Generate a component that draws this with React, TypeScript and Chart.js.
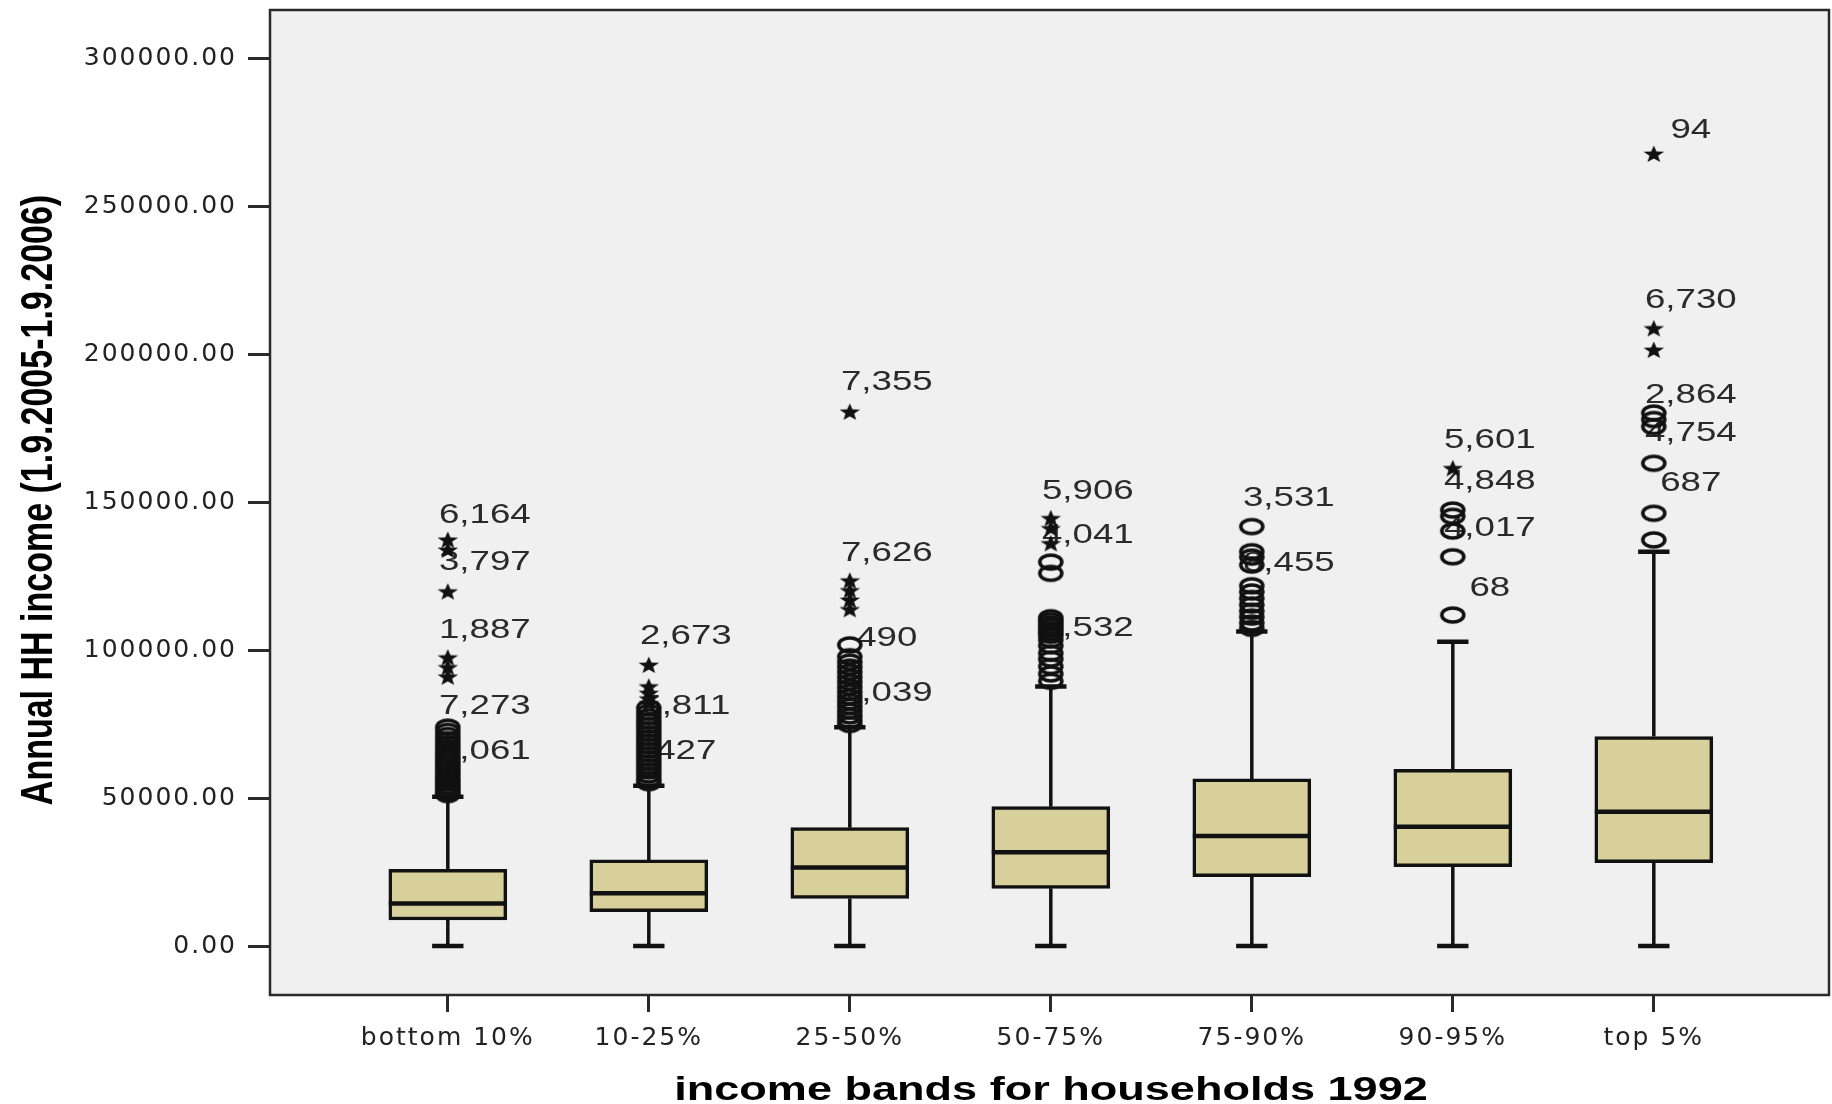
import React, { useEffect, useRef } from 'react';
import { Chart, registerables } from 'chart.js';

Chart.register(...registerables);

// ---------------- data ----------------
const categories = ['bottom 10%', '10-25%', '25-50%', '50-75%', '75-90%', '90-95%', 'top 5%'];

const whiskerLow = [0, 0, 0, 0, 0, 0, 0];
const quartile1 = [8800, 11600, 16100, 19500, 23400, 26800, 28200];
const medians = [14400, 17800, 26500, 31700, 37200, 40300, 45400];
const quartile3 = [25900, 29100, 40000, 47100, 56500, 59700, 70800];
const whiskerHigh = [50500, 54200, 74000, 87700, 106300, 102900, 133300];

// outliers (circles) per category
const mildOutliers = [
  [74000, 72600, 71200, 69800, 68500, 67200, 66000, 64800, 63600, 62500, 61400, 60300, 59200, 58100, 57000, 56000, 55000, 54000, 53000, 52000, 51200],
  [80500, 79000, 77500, 76000, 74600, 73200, 71800, 70400, 69000, 67600, 66200, 64800, 63400, 62000, 60600, 59200, 57800, 56400, 55200],
  [101800, 97800, 96000, 94300, 92600, 90900, 89200, 87500, 85800, 84200, 82600, 81000, 79400, 77800, 76300, 74900],
  [129800, 126000, 111000, 110000, 109000, 108000, 107000, 106000, 105000, 103500, 101500, 99000, 97000, 94500, 92000, 89500],
  [141800, 133300, 131500, 128800, 121800, 119700, 117500, 115300, 113200, 111200, 109200, 107400],
  [147400, 145300, 140300, 131600, 111900],
  [180200, 178000, 175600, 163200, 146300, 137300],
];

// extreme values (stars) per category
const extremeOutliers = [
  [137300, 133900, 119800, 97500, 94200, 91000],
  [95000, 87700, 85500, 83600, 82000],
  [180600, 123500, 120200, 117000, 113800],
  [144600, 141200, 136100],
  [],
  [161500],
  [267800, 208800, 201500],
];

// case-number labels per category, and the value each label sits next to
const caseLabelTexts = [
  ['6,164', '3,797', '1,887', '7,273', '4,061'],
  ['2,673', '5,811', '427'],
  ['7,355', '7,626', '490', '7,039'],
  ['5,906', '4,041', '3,532'],
  ['3,531', '8,455'],
  ['5,601', '4,848', '4,017', '68'],
  ['94', '6,730', '2,864', '4,754', '687'],
];
const caseLabelValues = [
  [136900, 121100, 98000, 72100, 56900],
  [95800, 72100, 56900],
  [181900, 124000, 95200, 76600],
  [144800, 130200, 98600],
  [142600, 120600],
  [162300, 148200, 132400, 112100],
  [267100, 209600, 177500, 164500, 147600],
];

const yTicks = [0, 50000, 100000, 150000, 200000, 250000, 300000];
const yTitle = 'Annual HH income (1.9.2005-1.9.2006)';
const xTitle = 'income bands for households 1992';

// ---------------- style ----------------
const FONT = '"Liberation Sans", Arial, Helvetica, sans-serif';
const TICK_FONT = '"DejaVu Sans", "Liberation Sans", sans-serif';
const STRETCH = 1.31;
const BOX_FILL = '#D8D09A';
const INK = '#111111';
const Y_MIN = -16567;
const Y_MAX = 316466;
const X_MIN = -0.8846;
const X_MAX = 6.8716;
const MEDIAN_HALF = 0.2935;
const CAP_HALF = 0.078;

function makeEllipse(): HTMLCanvasElement {
  const c = document.createElement('canvas');
  c.width = 28;
  c.height = 20;
  const g = c.getContext('2d')!;
  g.strokeStyle = INK;
  g.lineWidth = 3.6;
  g.beginPath();
  g.ellipse(14, 10, 11, 7, 0, 0, Math.PI * 2);
  g.stroke();
  return c;
}

function makeStar(): HTMLCanvasElement {
  const c = document.createElement('canvas');
  c.width = 24;
  c.height = 20;
  const g = c.getContext('2d')!;
  g.fillStyle = INK;
  g.beginPath();
  for (let k = 0; k < 10; k++) {
    const r = k % 2 === 0 ? 9 : 3.8;
    const a = -Math.PI / 2 + (k * Math.PI) / 5;
    const x = 12 + r * Math.cos(a) * 1.2;
    const y = 10.6 + r * Math.sin(a);
    if (k === 0) g.moveTo(x, y);
    else g.lineTo(x, y);
  }
  g.closePath();
  g.fill();
  return c;
}

function stretchedText(ctx: CanvasRenderingContext2D, text: string, x: number, y: number, font: string, color: string, align: CanvasTextAlign, baseline: CanvasTextBaseline, stretch = STRETCH) {
  ctx.save();
  ctx.letterSpacing = '0px';
  ctx.font = font;
  ctx.fillStyle = color;
  ctx.textAlign = align;
  ctx.textBaseline = baseline;
  ctx.translate(x, y);
  ctx.scale(stretch, 1);
  ctx.fillText(text, 0, 0);
  ctx.restore();
}

const spssPlugin = {
  id: 'spssStyle',
  beforeUpdate(chart: any) {
    chart.ctx.letterSpacing = '2px';
  },
  beforeDraw(chart: any) {
    const { ctx, chartArea: a, width, height } = chart;
    ctx.save();
    ctx.fillStyle = '#ffffff';
    ctx.fillRect(0, 0, width, height);
    ctx.fillStyle = '#F0F0F0';
    ctx.fillRect(a.left, a.top, a.right - a.left, a.bottom - a.top);
    ctx.restore();
    ctx.letterSpacing = '2px';
  },
  beforeDatasetsDraw(chart: any) {
    const { ctx } = chart;
    const xs = chart.scales.x;
    const ys = chart.scales.y;
    caseLabelTexts.forEach((texts, i) => {
      texts.forEach((t, j) => {
        const px = xs.getPixelForValue(i) + 37;
        const py = ys.getPixelForValue(caseLabelValues[i][j]) - 26;
        stretchedText(ctx, t, px, py, `28px ${FONT}`, '#2a2a2a', 'center', 'middle');
      });
    });
  },
  afterDatasetsDraw(chart: any) {
    const { ctx, chartArea: a } = chart;
    ctx.save();
    ctx.strokeStyle = '#2a2a2a';
    ctx.lineWidth = 2.5;
    ctx.strokeRect(a.left, a.top, a.right - a.left, a.bottom - a.top);
    ctx.restore();
  },
  afterDraw(chart: any) {
    const { ctx } = chart;
    stretchedText(ctx, xTitle, 1051, 1100, `bold 34px ${FONT}`, '#000', 'center', 'alphabetic', 1.325);
    ctx.save();
    ctx.letterSpacing = '0px';
    ctx.translate(52, 500);
    ctx.rotate(-Math.PI / 2);
    ctx.scale(1, STRETCH);
    ctx.font = `bold 34px ${FONT}`;
    ctx.fillStyle = '#000';
    ctx.textAlign = 'center';
    ctx.textBaseline = 'alphabetic';
    ctx.fillText(yTitle, 0, 0);
    ctx.restore();
  },
};

export default function App() {
  const canvasRef = useRef<HTMLCanvasElement | null>(null);

  useEffect(() => {
    const canvas = canvasRef.current;
    if (!canvas) return;
    const ellipse = makeEllipse();
    const star = makeStar();

    const boxes = categories.map((_, i) => ({ x: i, y: [quartile1[i], quartile3[i]] }));
    const whiskers: any[] = [];
    const caps: any[] = [];
    const medianLines: any[] = [];
    categories.forEach((_, i) => {
      whiskers.push({ x: i, y: quartile3[i] }, { x: i, y: whiskerHigh[i] }, { x: i, y: null });
      whiskers.push({ x: i, y: whiskerLow[i] }, { x: i, y: quartile1[i] }, { x: i, y: null });
      caps.push({ x: i - CAP_HALF, y: whiskerHigh[i] }, { x: i + CAP_HALF, y: whiskerHigh[i] }, { x: i, y: null });
      caps.push({ x: i - CAP_HALF, y: whiskerLow[i] }, { x: i + CAP_HALF, y: whiskerLow[i] }, { x: i, y: null });
      medianLines.push({ x: i - MEDIAN_HALF, y: medians[i] }, { x: i + MEDIAN_HALF, y: medians[i] }, { x: i, y: null });
    });
    const circles: any[] = [];
    mildOutliers.forEach((arr, i) => arr.forEach((v) => circles.push({ x: i, y: v })));
    const stars: any[] = [];
    extremeOutliers.forEach((arr, i) => arr.forEach((v) => stars.push({ x: i, y: v })));

    const chart = new Chart(canvas, {
      type: 'bar',
      data: {
        datasets: [
          { type: 'line', data: whiskers, borderColor: INK, borderWidth: 3.5, pointRadius: 0, spanGaps: false, borderCapStyle: 'butt', order: 6 } as any,
          { type: 'line', data: caps, borderColor: INK, borderWidth: 4.5, pointRadius: 0, spanGaps: false, borderCapStyle: 'butt', order: 5 } as any,
          { type: 'bar', data: boxes, backgroundColor: BOX_FILL, borderColor: INK, borderWidth: 3.5, borderSkipped: false, barThickness: 118, order: 4 } as any,
          { type: 'line', data: medianLines, borderColor: INK, borderWidth: 4.5, pointRadius: 0, spanGaps: false, borderCapStyle: 'butt', order: 3 } as any,
          { type: 'scatter', data: circles, pointStyle: ellipse, pointRadius: 10, order: 2 } as any,
          { type: 'scatter', data: stars, pointStyle: star, pointRadius: 10, order: 1 } as any,
        ],
      },
      options: {
        responsive: false,
        animation: false,
        events: [],
        layout: { autoPadding: false, padding: { top: 10, right: 3, left: 0, bottom: 0 } },
        plugins: {
          legend: { display: false },
          tooltip: { enabled: false },
          title: { display: false },
        },
        scales: {
          x: {
            type: 'linear',
            min: X_MIN,
            max: X_MAX,
            offset: false,
            border: { display: false },
            grid: {
              display: true,
              offset: false,
              drawOnChartArea: false,
              drawTicks: true,
              tickLength: 17,
              color: '#2a2a2a',
              lineWidth: 3,
            },
            ticks: {
              autoSkip: false,
              maxRotation: 0,
              minRotation: 0,
              padding: 11,
              color: '#222222',
              font: { family: TICK_FONT, size: 25 },
              callback: (v: any) => categories[Number(v)] ?? '',
            },
            afterBuildTicks: (s: any) => {
              s.ticks = categories.map((_, i) => ({ value: i }));
            },
            afterFit: (s: any) => {
              s.height = 109;
              s.paddingLeft = 0;
              s.paddingRight = 0;
            },
          } as any,
          y: {
            type: 'linear',
            min: Y_MIN,
            max: Y_MAX,
            border: { display: false },
            grid: {
              display: true,
              drawOnChartArea: false,
              drawTicks: true,
              tickLength: 22,
              color: '#2a2a2a',
              lineWidth: 3,
            },
            ticks: {
              padding: 11,
              color: '#222222',
              font: { family: TICK_FONT, size: 25 },
              callback: (v: any) => Number(v).toFixed(2),
            },
            afterBuildTicks: (s: any) => {
              s.ticks = yTicks.map((v) => ({ value: v }));
            },
            afterFit: (s: any) => {
              s.width = 270;
              s.paddingTop = 0;
              s.paddingBottom = 0;
            },
          } as any,
        },
      },
      plugins: [spssPlugin as any],
    });

    return () => {
      chart.destroy();
    };
  }, []);

  return (
    <div style={{ position: 'absolute', left: 0, top: 0, width: 1832, height: 1104, background: '#fff' }}>
      <canvas ref={canvasRef} width={1832} height={1104} style={{ display: 'block' }} />
    </div>
  );
}
